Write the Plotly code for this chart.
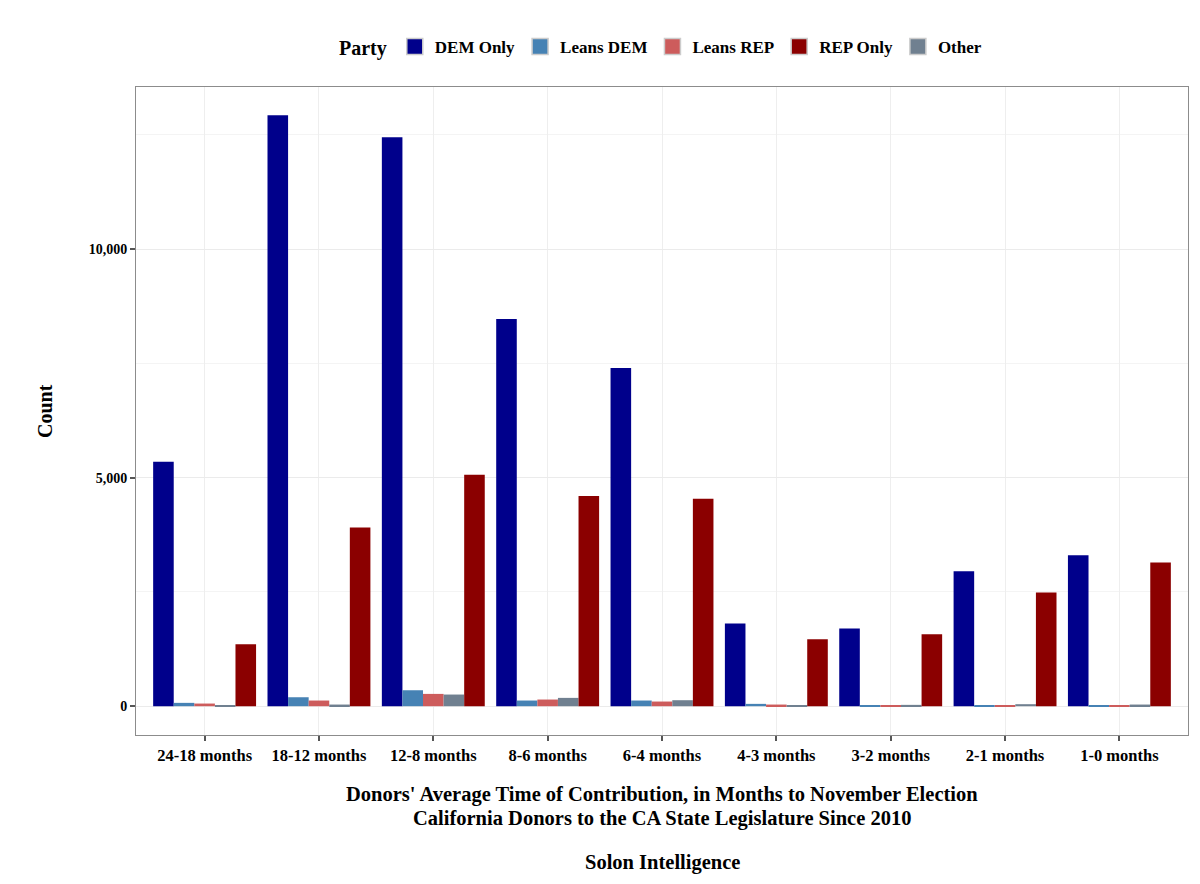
import plotly.graph_objects as go

categories = ["24-18 months", "18-12 months", "12-8 months", "8-6 months", "6-4 months",
              "4-3 months", "3-2 months", "2-1 months", "1-0 months"]
dem_only = [5350, 12925, 12445, 8470, 7400, 1810, 1700, 2950, 3300]
leans_dem = [73, 196, 349, 124, 124, 51, 15, 15, 10]
leans_rep = [58, 124, 269, 146, 102, 36, 10, 8, 12]
rep_only = [1353, 3908, 5065, 4600, 4540, 1463, 1572, 2489, 3144]
other = [12, 36, 255, 182, 131, 22, 29, 44, 36]

# legend order
legend_series = [
    ("DEM Only", "#00008B"),
    ("Leans DEM", "#4682B4"),
    ("Leans REP", "#CD5C5C"),
    ("REP Only", "#8B0000"),
    ("Other", "#708090"),
]
# dodge order of bars within each group
bar_series = [
    ("DEM Only", dem_only, "#00008B"),
    ("Leans DEM", leans_dem, "#4682B4"),
    ("Leans REP", leans_rep, "#CD5C5C"),
    ("Other", other, "#708090"),
    ("REP Only", rep_only, "#8B0000"),
]

FONT = "Liberation Serif"

fig = go.Figure()
for name, vals, col in bar_series:
    fig.add_trace(go.Bar(x=categories, y=vals, name=name, marker_color=col,
                         marker_line_width=0, showlegend=False))
for i, (name, col) in enumerate(legend_series):
    fig.add_trace(go.Scatter(x=[None], y=[None], mode="markers", name=f"<b>{name}</b>",
                             marker=dict(symbol="square", size=16, color=col,
                                         line=dict(color="#CCCCCC", width=1.5)),
                             legendrank=i + 1))

W, H = 1200, 884
L, R, T, B = 136, 12, 87, 149
ph = H - T - B
pw = W - L - R

def py(p):
    return (H - B - p) / ph

def px(p):
    return (p - L) / pw

fig.update_layout(
    width=W, height=H,
    margin=dict(l=L, r=R, t=T, b=B),
    paper_bgcolor="white", plot_bgcolor="white",
    barmode="group", bargap=0.1, bargroupgap=0,
    font=dict(family=FONT, color="black", size=15),
    legend=dict(orientation="h", x=0.5, xanchor="center", y=py(47), yanchor="middle",
                title=dict(text="<b>Party</b>", font=dict(size=20, family=FONT)),
                font=dict(size=17, family=FONT), itemwidth=30,
                traceorder="normal"),
    showlegend=True,
)

fig.update_xaxes(
    range=[-0.6, 8.6], showgrid=True, gridcolor="#EEEEEE", gridwidth=1,
    showline=True, linecolor="#8C8C8C", linewidth=1, mirror=True,
    ticks="outside", ticklen=5, tickcolor="#555555", tickwidth=1.5,
    tickfont=dict(size=16.5, family=FONT, color="black"),
    tickvals=categories, ticktext=[f"<b>{c}</b>" for c in categories],
    zeroline=False,
)
fig.update_yaxes(
    range=[-630, 13545], tickvals=[0, 5000, 10000],
    ticktext=["<b>0</b>", "<b>5,000</b>", "<b>10,000</b>"],
    showgrid=True, gridcolor="#EBEBEB", gridwidth=1,
    minor=dict(tickvals=[2500, 7500, 12500], showgrid=True, gridcolor="#F4F4F4", gridwidth=1),
    showline=True, linecolor="#8C8C8C", linewidth=1, mirror=True,
    ticks="outside", ticklen=5, tickcolor="#555555", tickwidth=1.5,
    tickfont=dict(size=14, family=FONT, color="black"),
    zeroline=False,
)

ann = [
    ("<b>Donors' Average Time of Contribution, in Months to November Election</b>", 794),
    ("<b>California Donors to the CA State Legislature Since 2010</b>", 818.5),
    ("<b>Solon Intelligence</b>", 862),
]
for text, p in ann:
    fig.add_annotation(text=text, xref="paper", yref="paper", x=px(662), y=py(p),
                       xanchor="center", yanchor="middle", showarrow=False,
                       font=dict(size=20.5, family=FONT, color="black"))
fig.add_annotation(text="<b>Count</b>", xref="paper", yref="paper", x=px(45), y=py(411),
                   xanchor="center", yanchor="middle", showarrow=False, textangle=-90,
                   font=dict(size=20, family=FONT, color="black"))

fig.write_html("out.html")
